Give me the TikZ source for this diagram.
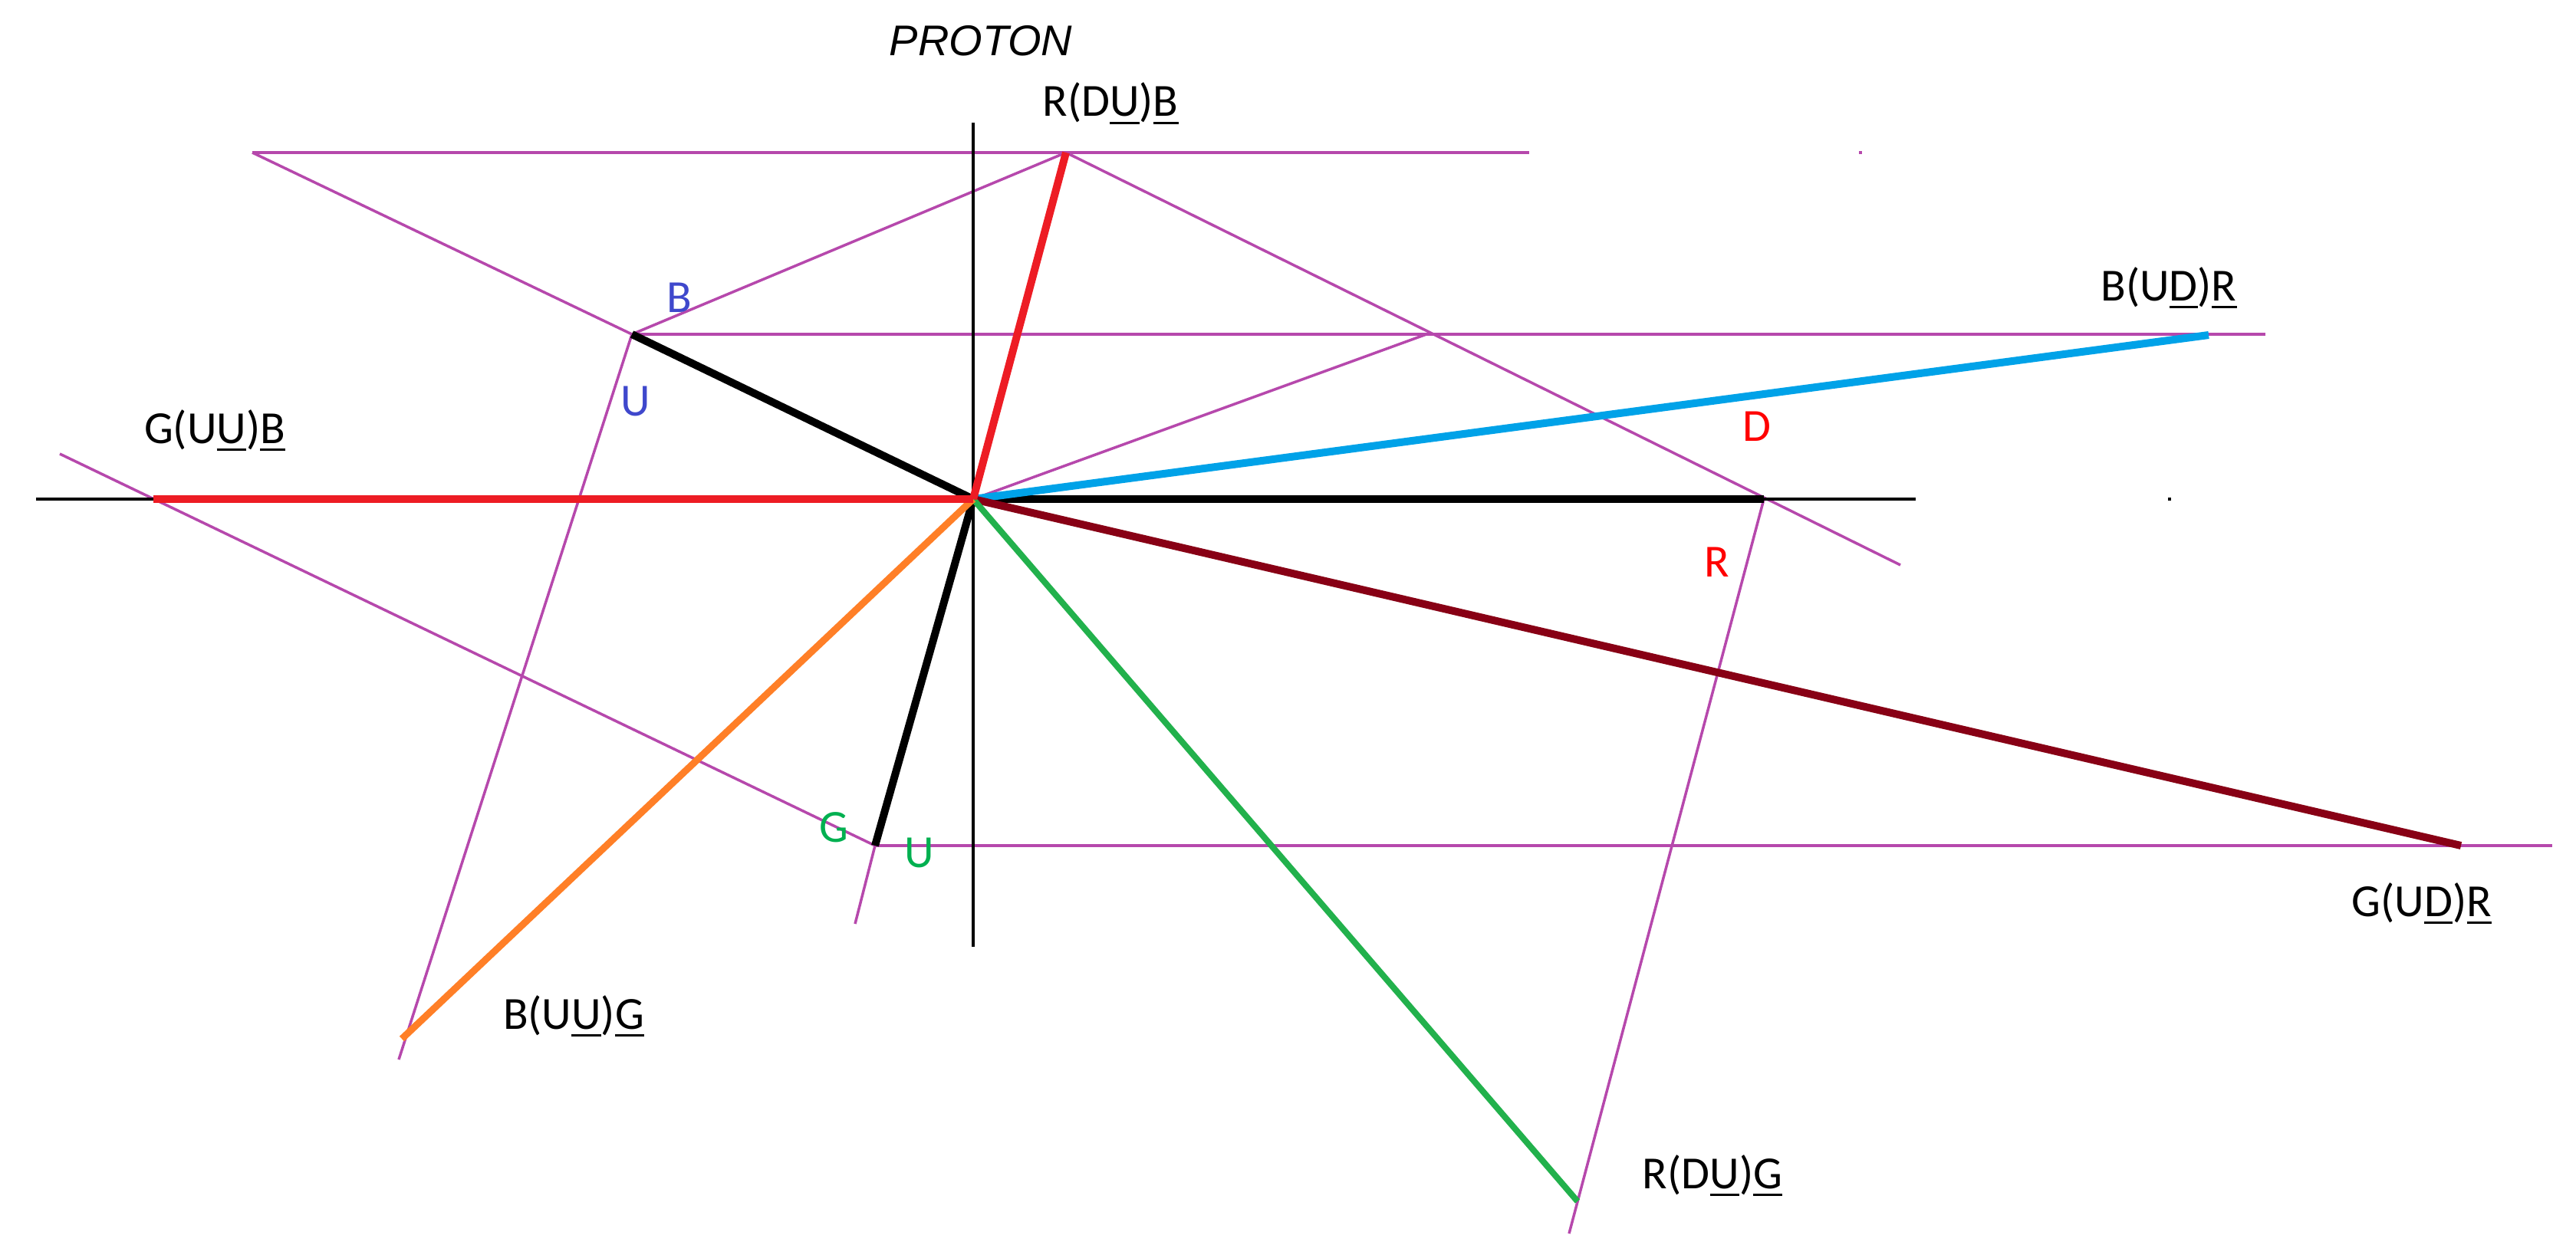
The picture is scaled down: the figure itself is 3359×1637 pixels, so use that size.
\documentclass[tikz,border=0pt]{standalone}
\usepackage{fontspec}
\setmainfont{Carlito}
\newfontfamily\arialfont{Liberation Sans}
\definecolor{mag}{RGB}{182,72,172}
\definecolor{pred}{RGB}{237,28,36}
\definecolor{pblue}{RGB}{0,162,232}
\definecolor{pdred}{RGB}{136,0,21}
\definecolor{pgreen}{RGB}{34,177,76}
\definecolor{porange}{RGB}{255,127,39}
\definecolor{tblue}{RGB}{63,72,204}
\definecolor{tgreen}{RGB}{0,176,80}
\definecolor{tred}{RGB}{255,0,0}
\newcommand\myul[1]{\setbox0\hbox{#1}\rlap{\vrule height -0.12em depth 0.17em width \wd0}\box0}
\begin{document}
\begin{tikzpicture}[x=1pt,y=-1pt,
  thinm/.style={draw=mag,line width=3.5pt},
  axisline/.style={draw=black,line width=3.5pt},
  quark/.style={line width=10pt},
  lab/.style={anchor=base,inner sep=0pt,font=\fontsize{60}{72}\selectfont},
  ttl/.style={anchor=base,inner sep=0pt,font=\arialfont\itshape\fontsize{56}{68}\selectfont}]
\useasboundingbox (0,0) rectangle (3359,1637);
% points
\coordinate (O) at (1269,651);
\coordinate (T) at (1390,199);
\coordinate (TL) at (329,199);
\coordinate (TR) at (1994,199);
\coordinate (Bq) at (824,436);
\coordinate (Rend) at (2954,436);
\coordinate (M) at (1860,436);
\coordinate (BlueEnd) at (2880,437);
\coordinate (Dq) at (2300,651);
\coordinate (DiagEnd) at (2478,737);
\coordinate (AxL) at (47,651);
\coordinate (AxR) at (2498,651);
\coordinate (AxT) at (1269,160);
\coordinate (AxB) at (1269,1235);
\coordinate (RedL) at (200,651);
\coordinate (GL) at (78,592);
\coordinate (Gq) at (1141,1103);
\coordinate (GRend) at (3328,1103);
\coordinate (DarkEnd) at (3209,1103);
\coordinate (Gdown) at (1115,1205);
\coordinate (BLend) at (520,1382);
\coordinate (OrEnd) at (524,1355);
\coordinate (GrEnd) at (2057,1567);
\coordinate (RRend) at (2046,1609);
% thin magenta construction lines
\draw[thinm] (TL) -- (TR);
\draw[thinm] (TL) -- (Bq);
\draw[thinm] (Bq) -- (T);
\draw[thinm] (T) -- (DiagEnd);
\draw[thinm] (Bq) -- (Rend);
\draw[thinm] (O) -- (M);
\draw[thinm] (GL) -- (Gq);
\draw[thinm] (Gq) -- (GRend);
\draw[thinm] (Gq) -- (Gdown);
\draw[thinm] (Bq) -- (BLend);
\draw[thinm] (Dq) -- (RRend);
\fill[mag] (2424,197) rectangle (2428,201);
% axes
\draw[axisline] (AxL) -- (AxR);
\draw[axisline] (AxT) -- (AxB);
\fill (2827,649) rectangle (2831,653);
% quark lines
\draw[quark,black] (O) -- (Bq);
\draw[quark,black] (O) -- (Dq);
\draw[quark,black] (O) -- (Gq);
\draw[quark,pblue] (O) -- (BlueEnd);
\draw[quark,pdred] (O) -- (DarkEnd);
\draw[quark,pgreen,line width=8pt] (O) -- (GrEnd);
\draw[quark,porange,line width=9pt] (O) -- (OrEnd);
\draw[quark,pred] (RedL) -- (O);
\draw[quark,pred] (O) -- (T);
% labels
\node[ttl] (proton) at (1279,73) {PROTON};
\node[lab] (lRDUB) at (1448,152) {R(D\myul{U})\myul{B}};
\node[lab] (lBUDR) at (2828,392) {B(U\myul{D})\myul{R}};
\node[lab] (lGUUB) at (280,578) {G(U\myul{U})\myul{B}};
\node[lab] (lBUUG) at (748,1342) {B(U\myul{U})\myul{G}};
\node[lab] (lGUDR) at (3158,1195) {G(U\myul{D})\myul{R}};
\node[lab] (lRDUG) at (2233,1550) {R(D\myul{U})\myul{G}};
\node[lab,text=tblue] (lB) at (886,407) {B};
\node[lab,text=tblue] (lU) at (829,542) {U};
\node[lab,text=tred] (lD) at (2291,575) {D};
\node[lab,text=tred] (lR) at (2239,752) {R};
\node[lab,text=tgreen] (lG) at (1087,1098) {G};
\node[lab,text=tgreen] (lU2) at (1199,1131) {U};
\end{tikzpicture}
\end{document}
